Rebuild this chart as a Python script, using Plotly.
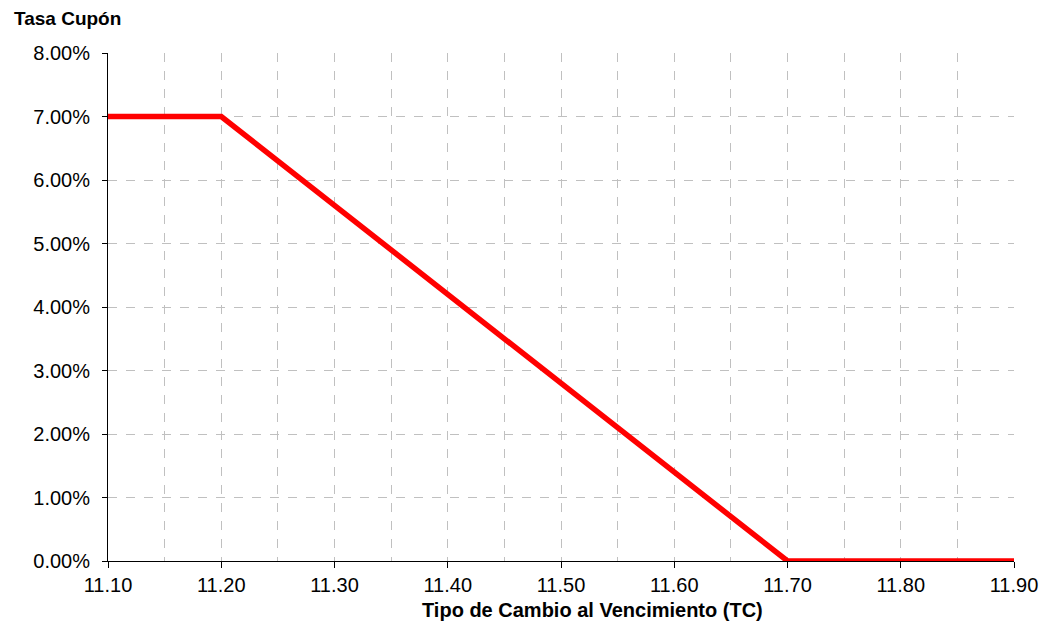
import plotly.graph_objects as go

# Tipo de cambio al vencimiento vs tasa cupón (puntos de quiebre)
tipo_cambio = [11.10, 11.20, 11.70, 11.905]
tasa_cupon = [0.07, 0.07, 0.0, 0.0]

x_ticks = [11.10, 11.20, 11.30, 11.40, 11.50, 11.60, 11.70, 11.80, 11.90]
x_labels = [f"{v:.2f}" for v in x_ticks]

fig = go.Figure()
fig.add_trace(go.Scatter(
    x=tipo_cambio, y=tasa_cupon, mode="lines",
    line=dict(color="#ff0000", width=5.5),
    hoverinfo="skip", showlegend=False, cliponaxis=False,
))

grid = dict(showgrid=True, gridcolor="#c0c0c0", griddash="dash", gridwidth=1)

# la página añade 8px de margen al body, por eso l/t van 8px menos
fig.update_layout(
    width=1047, height=639,
    margin=dict(l=100, r=41, t=45, b=86),
    paper_bgcolor="white", plot_bgcolor="white",
    font=dict(family="Liberation Sans, Arial", size=20, color="black"),
    annotations=[
        dict(text="<b>Tasa Cupón</b>", xref="paper", yref="paper",
             x=-0.106, y=1.068, xanchor="left", yanchor="middle",
             showarrow=False, font=dict(size=19)),
        # título del eje x, algo desplazado a la derecha como en el original
        dict(text="<b>Tipo de Cambio al Vencimiento (TC)</b>", xref="paper", yref="paper",
             x=0.535, y=-0.097, xanchor="center", yanchor="middle",
             showarrow=False, font=dict(size=20)),
    ],
)
fig.update_xaxes(
    range=[11.10, 11.90], tickvals=x_ticks, ticktext=x_labels,
    ticks="outside", ticklen=6, tickcolor="black", ticklabelstandoff=0,
    showline=True, linecolor="black", linewidth=1,
    zeroline=False, automargin=False,
    minor=dict(dtick=0.05, tick0=11.10, showgrid=True, gridcolor="#c0c0c0", griddash="dash"),
    **grid,
)
fig.update_yaxes(
    range=[0, 0.08], dtick=0.01, tickformat=".2%",
    ticks="outside", ticklen=5, tickcolor="black", ticklabelstandoff=8,
    showline=True, linecolor="black", linewidth=1,
    zeroline=False, automargin=False,
    **grid,
)

fig.write_html("out.html")
